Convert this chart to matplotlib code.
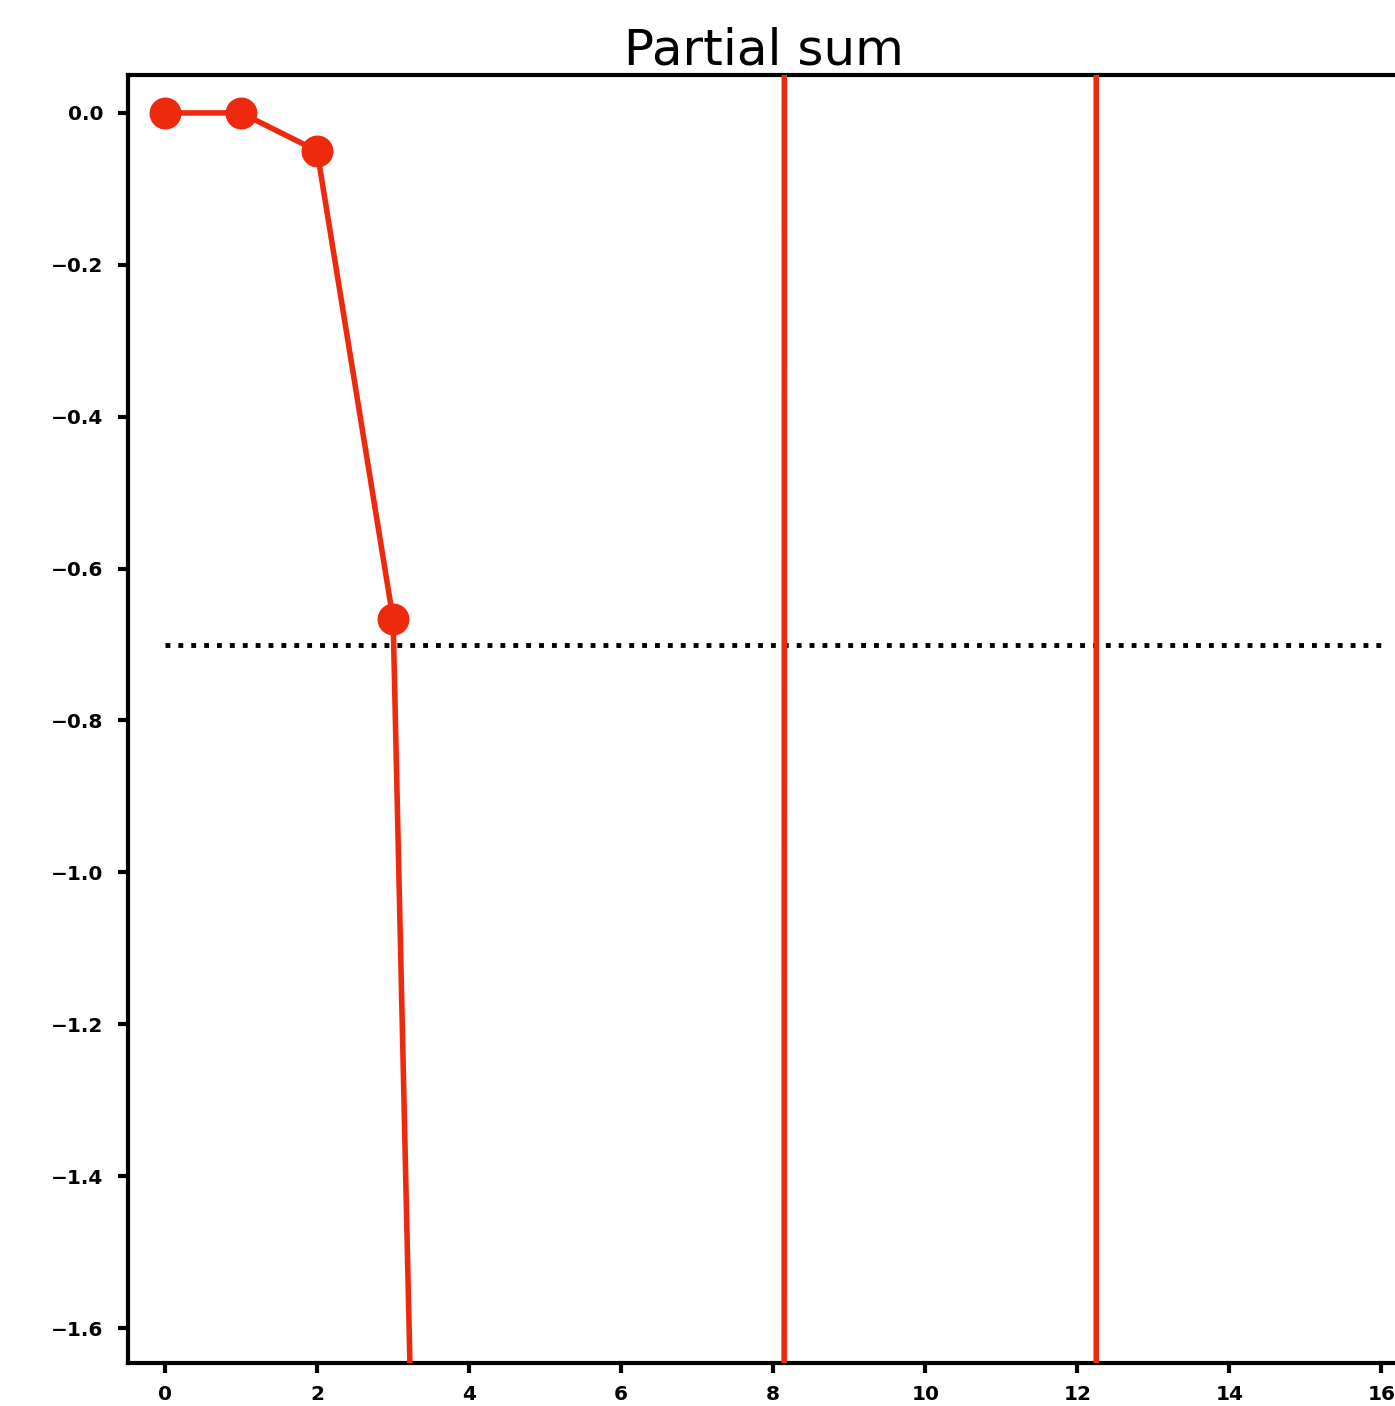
import matplotlib.pyplot as plt
import numpy as np

# partial sums (values far outside the window are only estimates of where
# the segments cross the visible area)
n_terms = np.arange(0, 17)
partial_sums = [0.0, 0.0, -0.05, -0.667, -5.1, -15.0, -40.0, -80.0, -120.0,
                700.0, 1500.0, 2500.0, 3000.0, -9000.0, -11000.0, -13000.0, -15000.0]
limit_value = -0.7
limit_x = [0, 16]

red = "#ee2a0e"

fig = plt.figure(figsize=(13.95, 14.06), dpi=100)
ax = fig.add_axes([0.0918, 0.0306, 0.912, 0.9161])

ax.plot(n_terms, partial_sums, color=red, linewidth=4, marker="o",
        markersize=22, zorder=3)
ax.plot(limit_x, [limit_value, limit_value], color="black", linestyle=":",
        linewidth=3.5, zorder=2)

ax.set_xlim(-0.487, 16.25)
ax.set_ylim(-1.646, 0.05)
ax.set_xticks(np.arange(0, 17, 2))
ax.set_yticks([0.0, -0.2, -0.4, -0.6, -0.8, -1.0, -1.2, -1.4, -1.6])
ax.set_yticklabels(["0.0", "\u22120.2", "\u22120.4", "\u22120.6", "\u22120.8",
                    "\u22121.0", "\u22121.2", "\u22121.4", "\u22121.6"])

for spine in ax.spines.values():
    spine.set_linewidth(3)
ax.tick_params(axis="both", labelsize=14.5, width=3, length=7)
ax.tick_params(axis="y", pad=11)
ax.tick_params(axis="x", pad=9)
for label in ax.get_xticklabels() + ax.get_yticklabels():
    label.set_fontweight("bold")

ax.set_title("Partial sum", fontsize=36, pad=6)

plt.savefig("out.png", dpi=100)
